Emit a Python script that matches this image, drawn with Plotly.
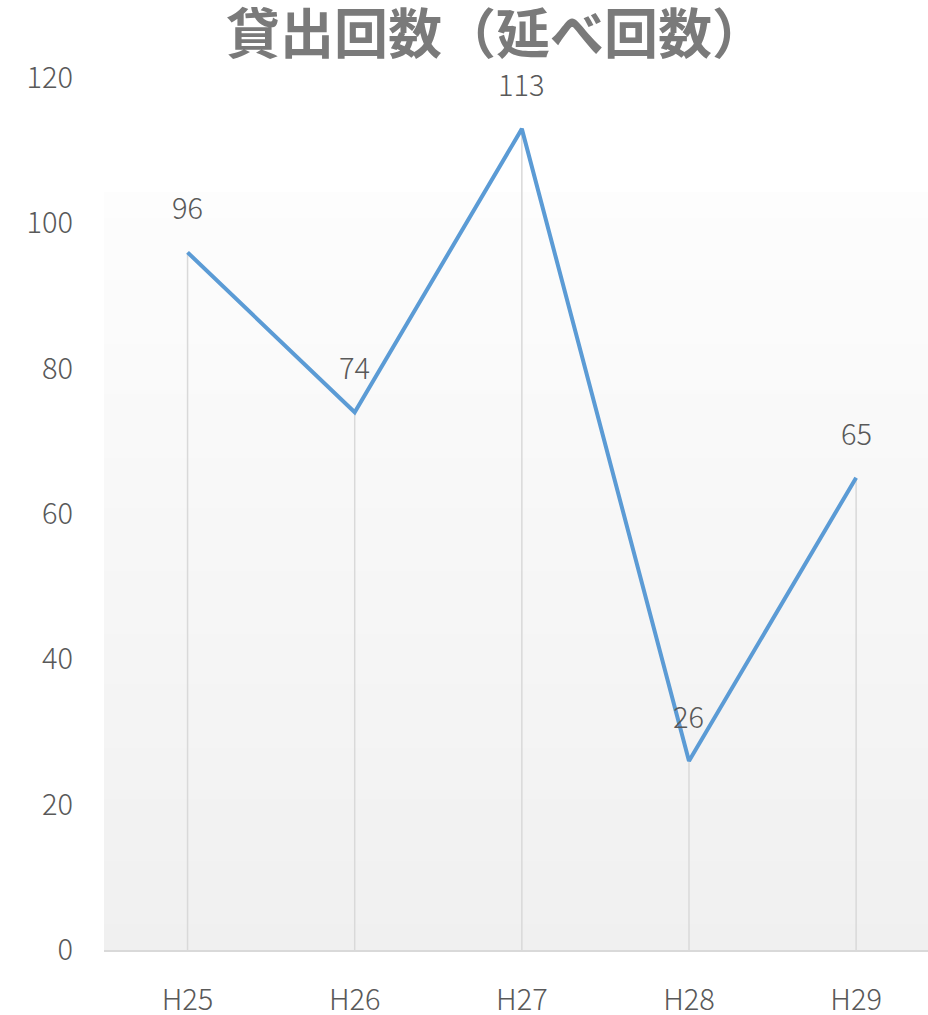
import plotly.graph_objects as go

categories = ["H25", "H26", "H27", "H28", "H29"]
values = [96, 74, 113, 26, 65]
y_ticks = [0, 20, 40, 60, 80, 100, 120]
title_text = "貸出回数（延べ回数）"

FONT = "Noto Sans CJK JP"
TXT = "#595959"

xi = list(range(len(categories)))

fig = go.Figure()

# drop lines
dx, dy = [], []
for i, v in zip(xi, values):
    dx += [i, i, None]
    dy += [0, v, None]
fig.add_trace(go.Scatter(x=dx, y=dy, mode="lines",
                         line=dict(color="#d9d9d9", width=1.5),
                         hoverinfo="skip", showlegend=False))

fig.add_trace(go.Scatter(x=xi, y=values, mode="lines",
                         line=dict(color="#5b9bd5", width=4),
                         showlegend=False))

for i, v in zip(xi, values):
    fig.add_annotation(x=i, y=v, text=str(v), showarrow=False, yshift=46,
                       font=dict(family=FONT, size=29, color=TXT, weight=300))

# gradient background of plot area
top_val = 104.3
n = 60
c0, c1 = 0xFD, 0xF0
for k in range(n):
    y0 = top_val * k / n
    y1 = min(top_val, top_val * (k + 1) / n + 0.6)
    t = (k + 0.5) / n
    c = round(c1 + (c0 - c1) * t)
    col = f"rgb({c},{c},{c})"
    fig.add_shape(type="rect", xref="x", yref="y", x0=-0.5, x1=4.6,
                  y0=y0, y1=y1, fillcolor=col, line=dict(width=0),
                  layer="below")

fig.update_layout(
    width=928, height=1015,
    margin=dict(l=104, r=0, t=78, b=65),
    paper_bgcolor="white", plot_bgcolor="white",
    title=dict(text=f"<b>{title_text}</b>", x=496 / 928, xanchor="center",
               y=1 - 35 / 1015, yanchor="middle", yref="container",
               font=dict(family=FONT, size=54, color="#7a7a7a")),
    showlegend=False,
)
fig.update_xaxes(range=[-0.5, 4.43], tickvals=xi, ticktext=categories,
                 showgrid=False, zeroline=False, showline=True,
                 linecolor="#d9d9d9", linewidth=2, ticks="",
                 ticklabelstandoff=23, automargin=False,
                 tickfont=dict(family=FONT, size=29, color=TXT, weight=300))
fig.update_yaxes(range=[0, 120], tickvals=y_ticks, showgrid=False,
                 zeroline=False, showline=False, ticks="",
                 ticklabelstandoff=30, automargin=False,
                 tickfont=dict(family=FONT, size=29, color=TXT, weight=300))

fig.write_html("out.html")
